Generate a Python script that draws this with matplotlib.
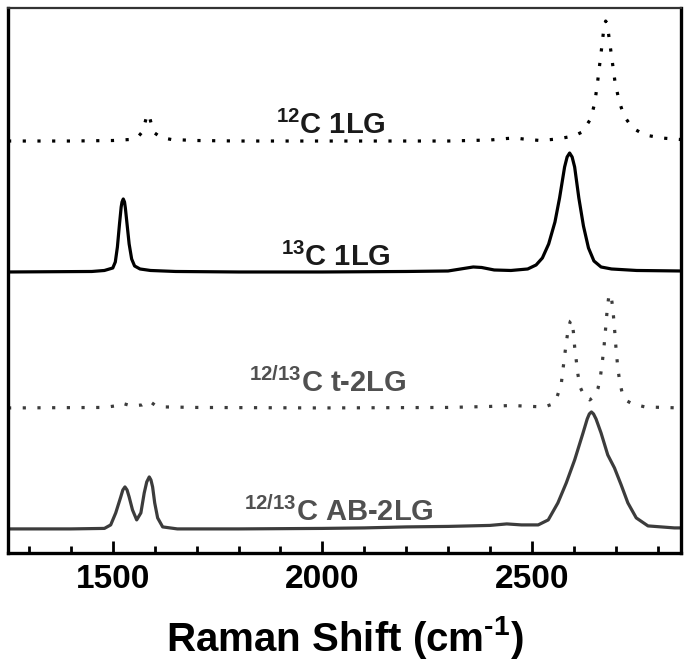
"""Raman spectra of 12C / 13C mono- and bilayer graphene, stacked."""

import matplotlib

matplotlib.use("Agg")
import matplotlib.pyplot as plt
from matplotlib.ticker import MultipleLocator

plt.rcParams["font.family"] = ["Liberation Sans", "DejaVu Sans"]
plt.rcParams["mathtext.fontset"] = "custom"
plt.rcParams["mathtext.bf"] = "Liberation Sans:bold"
plt.rcParams["mathtext.rm"] = "Liberation Sans:bold"
plt.rcParams["mathtext.default"] = "bf"

# --- data (Raman shift in cm^-1, intensity above each baseline, arb. units) ---
x_12c = [1250, 1400, 1500, 1540, 1560, 1570, 1576, 1581, 1584, 1587, 1592, 1600, 1615, 1640,
         1700, 1800, 2000, 2200, 2300, 2400, 2440, 2460, 2480, 2520, 2560, 2600, 2620, 2640,
         2650, 2657, 2665, 2671, 2674, 2676, 2679, 2682, 2690, 2698, 2708, 2720, 2740, 2770,
         2810, 2855]
y_12c = [0, 0, 0.5, 1.5, 4, 9, 17, 25, 27, 25, 17, 8, 3.5, 1.5,
         0.5, 0, 0, 0, 0, 1, 2.5, 3, 2, 0.5, 2, 5, 9, 22,
         38, 60, 88, 110, 117, 120, 118, 110, 85, 60, 40, 25, 13, 6,
         3, 1.5]

x_13c = [1250, 1450, 1480, 1500, 1506, 1511, 1516, 1520, 1522, 1525, 1528, 1530, 1534, 1539,
         1545, 1552, 1565, 1590, 1650, 1800, 2000, 2200, 2300, 2330, 2360, 2380, 2410, 2450,
         2490, 2510, 2525, 2540, 2555, 2566, 2578, 2584, 2590, 2596, 2602, 2612, 2623, 2635,
         2648, 2665, 2690, 2750, 2855]
y_13c = [0, 0.5, 1.5, 4, 10, 25, 48, 65, 70, 73, 70, 64, 48, 28,
         13, 6, 3, 1.5, 0.5, 0, 0, 0.5, 1, 3, 5, 4.5, 2, 1.5,
         3, 7, 14, 28, 50, 74, 105, 115, 119, 115, 105, 74, 46, 24,
         11, 5, 3, 1.5, 1]

x_t2lg = [1250, 1480, 1505, 1518, 1528, 1545, 1570, 1587, 1600, 1625, 1700, 2000, 2300,
          2400, 2450, 2500, 2530, 2550, 2560, 2570, 2574, 2578, 2582, 2587, 2592, 2595,
          2599, 2602, 2606, 2610, 2616, 2625, 2638, 2650, 2658, 2664, 2668, 2672, 2676,
          2680, 2683, 2686, 2690, 2693, 2697, 2701, 2705, 2710, 2716, 2727, 2740, 2770, 2855]
y_t2lg = [0, 0.5, 2, 5, 4, 2, 3, 7, 3, 1, 0.5, 0, 0.5,
          1.5, 2.5, 1.5, 1, 4, 11, 24, 38, 52, 65, 80, 87, 88,
          76, 61, 47, 33, 20, 12, 8, 12, 20, 33, 46, 61, 80,
          100, 110, 114, 109, 100, 80, 58, 40, 25, 14, 7, 4, 1, 0]

x_ab2lg = [1250, 1400, 1480, 1495, 1507, 1519, 1524, 1529, 1534, 1539, 1547, 1557, 1567,
           1575, 1581, 1587, 1591, 1595, 1600, 1607, 1619, 1654, 1800, 2000, 2100, 2200,
           2300, 2400, 2440, 2475, 2515, 2539, 2562, 2582, 2602, 2622, 2632, 2637, 2642,
           2647, 2653, 2665, 2681, 2697, 2713, 2729, 2749, 2777, 2840, 2855]
y_ab2lg = [0, 0, 0.5, 4, 16, 32, 39, 42, 39, 32, 19, 9, 16,
           36, 47, 52, 49, 42, 26, 11, 2, 0, 0, 0.5, 1, 2,
           2.5, 3.5, 5, 4, 4, 9, 26, 46, 69, 96, 110, 115, 117,
           115, 110, 96, 74, 61, 44, 26, 11, 3, 1, 1]

offsets = [412, 281, 145, 24]
labels = [r"$^{12}$C 1LG", r"$^{13}$C 1LG", r"$^{12/13}$C t-2LG", r"$^{12/13}$C AB-2LG"]
label_x = [2021, 2033, 2014, 2040]
label_y = [428, 296, 170, 41]


def main() -> None:
    fig = plt.figure(figsize=(6.85, 6.71), dpi=100)
    ax = fig.add_axes([0.0117, 0.176, 0.982, 0.812])

    dotted = (0, (1, 3.6))
    ax.plot(x_12c, [v + offsets[0] for v in y_12c], color="black", lw=2.3, linestyle=dotted)
    ax.plot(x_13c, [v + offsets[1] for v in y_13c], color="black", lw=2.3)
    ax.plot(x_t2lg, [v + offsets[2] for v in y_t2lg], color="#3c3c3c", lw=2.3, linestyle=dotted)
    ax.plot(x_ab2lg, [v + offsets[3] for v in y_ab2lg], color="#3c3c3c", lw=2.3)

    text_colors = ["#1a1a1a", "#1a1a1a", "#505050", "#505050"]
    for lab, lx, ly, c in zip(labels, label_x, label_y, text_colors):
        ax.text(lx, ly, lab, ha="center", va="center", fontsize=21, fontweight="bold", color=c)

    ax.set_xlim(1250, 2855)
    ax.set_ylim(0, 545)
    ax.xaxis.set_major_locator(MultipleLocator(500))
    ax.xaxis.set_minor_locator(MultipleLocator(100))
    ax.tick_params(axis="x", which="major", direction="in", length=9, width=2, pad=8,
                   labelsize=24)
    ax.tick_params(axis="x", which="minor", direction="in", length=5, width=2)
    ax.set_yticks([])
    for lbl in ax.get_xticklabels():
        lbl.set_fontweight("bold")

    for side in ["left", "right", "bottom"]:
        ax.spines[side].set_linewidth(2.4)
    ax.spines["top"].set_linewidth(1.6)
    ax.spines["top"].set_color("#333333")

    ax.set_xlabel(r"Raman Shift (cm$^{\text{-}1}$)", fontsize=29, fontweight="bold",
                  labelpad=14)

    fig.savefig("out.png", dpi=100)
    plt.close(fig)


if __name__ == "__main__":
    main()
